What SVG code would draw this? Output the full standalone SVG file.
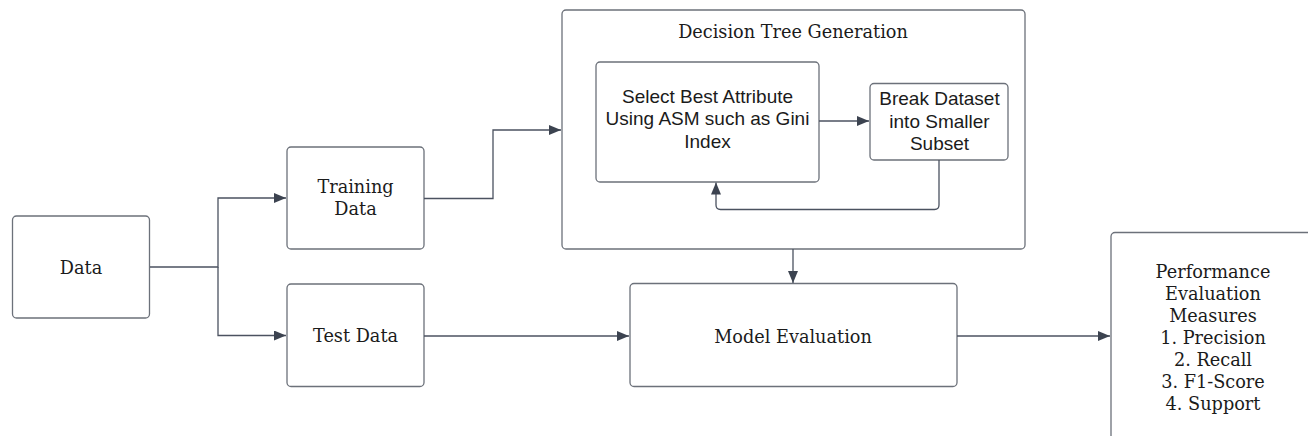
<svg xmlns="http://www.w3.org/2000/svg" width="1308" height="436" viewBox="0 0 1308 436">
  <defs>
    <style>
      .box { fill: #ffffff; stroke: #6c717a; stroke-width: 1.3; }
      .edge { fill: none; stroke: #4b5260; stroke-width: 1.3; }
      .serif { font-family: "DejaVu Serif", "Liberation Serif", serif; font-size: 17.7px; fill: #1b1b1b; text-anchor: middle; dominant-baseline: central; }
      .sans { font-family: "Liberation Sans", Arial, sans-serif; font-size: 19px; fill: #1b1b1b; text-anchor: middle; dominant-baseline: central; }
    </style>
    <marker id="arrow" viewBox="0 0 12 10" refX="12" refY="5" markerWidth="12" markerHeight="10" markerUnits="userSpaceOnUse" orient="auto">
      <path d="M0,0 L12,5 L0,10 Z" fill="#3c4350"/>
    </marker>
  </defs>
  <rect width="1308" height="436" fill="#ffffff"/>

  <g id="data">
    <rect class="box" x="12.5" y="216" width="137" height="102" rx="4"/>
    <text class="serif" x="81" y="268">Data</text>
  </g>

  <g id="training-data">
    <rect class="box" x="287" y="147" width="137" height="102" rx="4"/>
    <text class="serif" x="355.5" y="187">Training</text>
    <text class="serif" x="355.5" y="209">Data</text>
  </g>

  <g id="test-data">
    <rect class="box" x="287" y="284" width="137" height="102.5" rx="4"/>
    <text class="serif" x="355.5" y="336">Test Data</text>
  </g>

  <g id="decision-tree-generation">
    <rect class="box" x="562" y="10" width="463" height="239" rx="4"/>
    <text class="serif" x="793" y="31.5">Decision Tree Generation</text>
  </g>

  <g id="select-best-attribute">
    <rect class="box" x="596" y="62" width="223" height="120" rx="4"/>
    <text class="sans" x="707.5" y="96">Select Best Attribute</text>
    <text class="sans" x="707.5" y="118.5">Using ASM such as Gini</text>
    <text class="sans" x="707.5" y="141.5">Index</text>
  </g>

  <g id="break-dataset">
    <rect class="box" x="870" y="83.5" width="138" height="76.5" rx="4"/>
    <text class="sans" x="939.5" y="98.5">Break Dataset</text>
    <text class="sans" x="939.5" y="121">into Smaller</text>
    <text class="sans" x="939.5" y="143.5">Subset</text>
  </g>

  <g id="model-evaluation">
    <rect class="box" x="630" y="283.5" width="327" height="103" rx="4"/>
    <text class="serif" x="793" y="336.5">Model Evaluation</text>
  </g>

  <g id="performance-evaluation">
    <rect class="box" x="1111" y="232.5" width="230" height="240" rx="4"/>
    <text class="serif" x="1213" y="271.5">Performance</text>
    <text class="serif" x="1213" y="293.5">Evaluation</text>
    <text class="serif" x="1213" y="315.5">Measures</text>
    <text class="serif" x="1213" y="337.5">1. Precision</text>
    <text class="serif" x="1213" y="359.5">2. Recall</text>
    <text class="serif" x="1213" y="381.5">3. F1-Score</text>
    <text class="serif" x="1213" y="403.5">4. Support</text>
  </g>

  <g id="connectors">
    <path class="edge" d="M150,267 H218 V198 H286" marker-end="url(#arrow)"/>
    <path class="edge" d="M218,267 V335.5 H286" marker-end="url(#arrow)"/>
    <path class="edge" d="M424,198.5 H493 V130 H561" marker-end="url(#arrow)"/>
    <path class="edge" d="M819,121 H869" marker-end="url(#arrow)"/>
    <path class="edge" d="M939,160 V205 Q939,209.5 934.5,209.5 H720.5 Q716,209.5 716,205 V182.5" marker-end="url(#arrow)"/>
    <path class="edge" d="M793,249 V283" marker-end="url(#arrow)"/>
    <path class="edge" d="M424,336 H629" marker-end="url(#arrow)"/>
    <path class="edge" d="M957,336 H1110" marker-end="url(#arrow)"/>
  </g>
</svg>
